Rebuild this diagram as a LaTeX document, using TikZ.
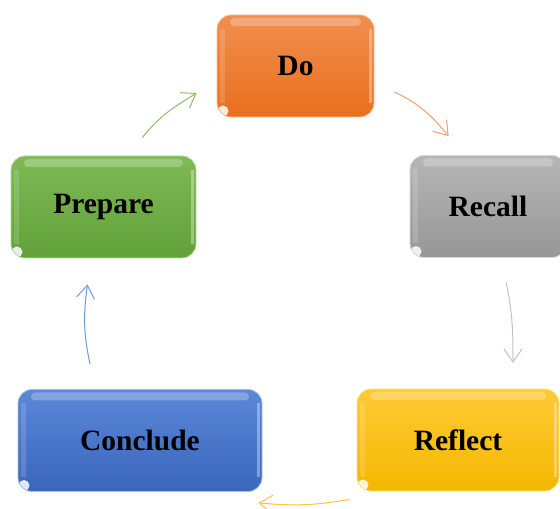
\documentclass[tikz,border=0pt]{standalone}
\usepackage{fontspec}
\setmainfont{Liberation Serif}
\usetikzlibrary{arrows.meta}

% fill colours (top / bottom of each gradient) and connector colours
\definecolor{doTop}{HTML}{F28E4E}
\definecolor{doBot}{HTML}{E8701E}
\definecolor{reTop}{HTML}{B6B6B6}
\definecolor{reBot}{HTML}{979797}
\definecolor{rfTop}{HTML}{FFCA35}
\definecolor{rfBot}{HTML}{F4B800}
\definecolor{coTop}{HTML}{5B88D7}
\definecolor{coBot}{HTML}{3966BC}
\definecolor{prTop}{HTML}{7EBA56}
\definecolor{prBot}{HTML}{62A13A}
\definecolor{arOrange}{HTML}{F4A06A}
\definecolor{arGray}{HTML}{C2C2C2}
\definecolor{arYellow}{HTML}{FFC43A}
\definecolor{arBlue}{HTML}{6F97DA}
\definecolor{arGreen}{HTML}{8BBF68}

\tikzset{
  stepbox/.style args={#1/#2/#3}{
    rounded corners=14pt, minimum width=#1, minimum height=102pt,
    inner sep=0pt, top color=#2, bottom color=#3, draw=#2!55!white,
    line width=0.8pt,
    font=\fontsize{29.5}{31}\selectfont\bfseries,
    path picture={
      % glossy band along the top edge
      \fill[white,opacity=0.25,rounded corners=4pt]
        ([xshift=13pt,yshift=-3pt]path picture bounding box.north west)
        rectangle ([xshift=-13pt,yshift=-11pt]path picture bounding box.north east);
      % light rims on the left and right
      \fill[white,opacity=0.15,sharp corners]
        ([xshift=3pt,yshift=-14pt]path picture bounding box.north west)
        rectangle ([xshift=8pt,yshift=14pt]path picture bounding box.south west);
      \fill[white,opacity=0.35,sharp corners]
        ([xshift=-5pt,yshift=-14pt]path picture bounding box.north east)
        rectangle ([xshift=-2pt,yshift=14pt]path picture bounding box.south east);
      % bright spot in the lower left corner
      \fill[white,opacity=0.85]
        ([xshift=6pt,yshift=6pt]path picture bounding box.south west) circle (5.5pt);
    }
  },
  flow/.style={line width=1pt, -{Straight Barb[length=13pt,width=18pt,line width=1pt]}}
}

\begin{document}
\begin{tikzpicture}[x=1pt,y=1pt]
  \useasboundingbox (0,0) rectangle (560,509);

  \node[stepbox={157pt/doTop/doBot}] (do)       at (295.5,443)   {Do};
  \node[stepbox={156pt/reTop/reBot}] (recall)   at (488,302.5)   {Recall};
  \node[stepbox={202pt/rfTop/rfBot}] (reflect)  at (458,69)      {Reflect};
  \node[stepbox={244pt/coTop/coBot}] (conclude) at (140,68.5)    {Conclude};
  \node[stepbox={185pt/prTop/prBot}] (prepare)  at (103.5,302)   {Prepare};

  % curved connectors running clockwise round the cycle
  \draw[flow, arOrange]
    ([xshift=20pt,yshift=-26pt]do.east) to[out=-25,in=130]
    ([xshift=39pt,yshift=19pt]recall.north west);
  \draw[flow, arGray]
    ([xshift=18pt,yshift=-24pt]recall.south) to[out=-78,in=90]
    ([xshift=25pt,yshift=-105pt]recall.south);
  \draw[flow, arYellow]
    ([xshift=-7pt,yshift=-8pt]reflect.south west) to[out=190,in=-5]
    ([xshift=-4pt,yshift=-11pt]conclude.south east);
  \draw[flow, arBlue]
    ([xshift=-50pt,yshift=25pt]conclude.north) to[out=102,in=-98]
    ([xshift=-16pt,yshift=-26pt]prepare.south);
  \draw[flow, arGreen]
    ([xshift=-54pt,yshift=18pt]prepare.north east) to[out=52,in=212]
    ([xshift=-20pt,yshift=-27pt]do.west);
\end{tikzpicture}
\end{document}
